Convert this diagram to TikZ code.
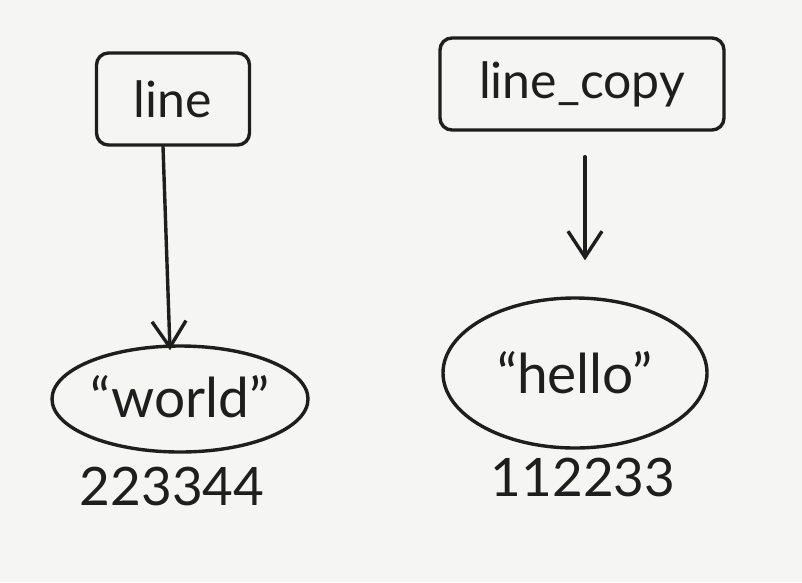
\documentclass[tikz,border=0pt]{standalone}
\usepackage{fontspec}
\setmainfont{Lato}
\usetikzlibrary{shapes.geometric,arrows.meta}
\definecolor{paper}{HTML}{F5F5F3}
\definecolor{ink}{HTML}{1E1E1E}
\tikzset{
  ink line/.style={draw=ink, line width=3.4pt, line cap=round, line join=round},
  namebox/.style={ink line, rounded corners=12pt, inner sep=0pt, text=ink, font=\fontsize{50}{54}\selectfont},
  valblob/.style={ink line, ellipse, inner sep=0pt, text=ink, font=\fontsize{55}{58}\selectfont},
  idtext/.style={text=ink, inner sep=0pt, font=\fontsize{53}{56}\selectfont},
  arr/.style={ink line, -{Straight Barb[length=26pt, width=34pt, line width=3.4pt]}}
}
\begin{document}
\begin{tikzpicture}[x=1pt, y=-1pt]
  \fill[paper] (0,0) rectangle (802,582);
  \useasboundingbox (0,0) rectangle (802,582);

  \node[namebox, minimum width=153pt, minimum height=92pt] (line) at (173,99) {line};
  \node[namebox, minimum width=284pt, minimum height=92pt] (linecopy) at (582,84) {line\_copy};

  \node[valblob, minimum width=256pt, minimum height=106pt] (world) at (180,399) {\raisebox{6pt}{“world”}};
  \node[valblob, minimum width=264pt, minimum height=150pt] (hello) at (575,373) {\raisebox{-6pt}{“hello”}};

  \node[idtext] (idw) at (172,487) {223344};
  \node[idtext] (idh) at (583,477) {112233};

  \draw[arr] ([xshift=-10pt]line.south) -- ([xshift=-10pt, yshift=-6pt]world.north);
  \draw[arr, shorten <=25pt, shorten >=36pt] ([xshift=3pt]linecopy.south) -- ([xshift=10pt]hello.north);
\end{tikzpicture}
\end{document}
